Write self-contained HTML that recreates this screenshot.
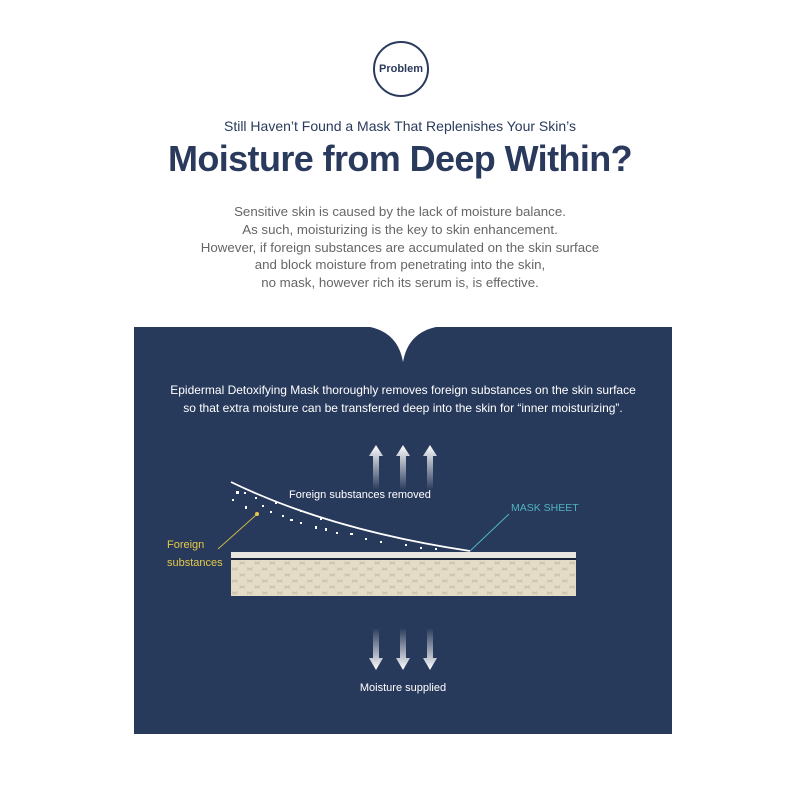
<!DOCTYPE html>
<html><head><meta charset="utf-8"><style>
body{margin:0;width:800px;height:800px;background:#fff;position:relative;overflow:hidden;font-family:"Liberation Sans",sans-serif}
.c{position:absolute;left:0;width:800px;text-align:center}
</style></head><body>
<div style="position:absolute;left:373px;top:41px;width:56px;height:56px;border:2.5px solid #2a3a5c;border-radius:50%;box-sizing:border-box;display:flex;align-items:center;justify-content:center;font-weight:bold;font-size:11px;color:#2a3a5c">Problem</div>
<div class="c" style="top:118px;font-size:14px;color:#2a3a5c">Still Haven’t Found a Mask That Replenishes Your Skin’s</div>
<div class="c" style="top:138px;font-size:36px;font-weight:bold;color:#2a3a5c;letter-spacing:-0.6px">Moisture from Deep Within?</div>
<div class="c" style="top:203px;font-size:13.3px;line-height:17.8px;color:#666">Sensitive skin is caused by the lack of moisture balance.<br>As such, moisturizing is the key to skin enhancement.<br>However, if foreign substances are accumulated on the skin surface<br>and block moisture from penetrating into the skin,<br>no mask, however rich its serum is, is effective.</div>
<svg style="position:absolute;left:0;top:0" width="800" height="800">
<defs>
<linearGradient id="up" x1="0" y1="0" x2="0" y2="1"><stop offset="0" stop-color="#fff"/><stop offset="1" stop-color="#fff" stop-opacity="0"/></linearGradient>
<linearGradient id="dn" x1="0" y1="1" x2="0" y2="0"><stop offset="0" stop-color="#fff"/><stop offset="1" stop-color="#fff" stop-opacity="0"/></linearGradient>
<pattern id="hex" x="231" y="560" width="15" height="12" patternUnits="userSpaceOnUse">
<rect width="15" height="12" fill="#cfc6ae"/>
<circle cx="3.75" cy="3" r="5" fill="#e4dcc7"/><circle cx="11.25" cy="9" r="5" fill="#e4dcc7"/><circle cx="-3.75" cy="9" r="5" fill="#e4dcc7"/><circle cx="18.75" cy="3" r="5" fill="#e4dcc7"/><circle cx="3.75" cy="15" r="5" fill="#e4dcc7"/><circle cx="11.25" cy="-3" r="5" fill="#e4dcc7"/><circle cx="18.75" cy="15" r="5" fill="#e4dcc7"/><circle cx="-3.75" cy="-3" r="5" fill="#e4dcc7"/>
</pattern>
</defs>
<path d="M134 327 H370 Q398 333 403 362 Q408 333 436 327 H672 V734 H134 Z" fill="#283a5b"/>
<text x="403" y="394" text-anchor="middle" font-size="12" fill="#fff">Epidermal Detoxifying Mask thoroughly removes foreign substances on the skin surface</text>
<text x="403" y="412" text-anchor="middle" font-size="12" fill="#fff">so that extra moisture can be transferred deep into the skin for “inner moisturizing”.</text>
<g fill="url(#up)">
<path d="M369 456 L376 445 L383 456 H379 V490 H373 V456Z"/>
<path d="M396 456 L403 445 L410 456 H406 V490 H400 V456Z"/>
<path d="M423 456 L430 445 L437 456 H433 V490 H427 V456Z"/>
</g>
<g fill="url(#dn)">
<path d="M369 658 L376 670 L383 658 H379 V628 H373 V658Z"/>
<path d="M396 658 L403 670 L410 658 H406 V628 H400 V658Z"/>
<path d="M423 658 L430 670 L437 658 H433 V628 H427 V658Z"/>
</g>
<text x="289" y="498" font-size="11" fill="#fff">Foreign substances removed</text>
<text x="511" y="511" font-size="10.5" fill="#4fb3c0">MASK SHEET</text>
<line x1="509" y1="514" x2="470" y2="551" stroke="#4fb3c0" stroke-width="1"/>
<text x="167" y="548" font-size="11" fill="#e5c94a">Foreign</text>
<text x="167" y="566" font-size="11" fill="#e5c94a">substances</text>
<line x1="218" y1="549" x2="256" y2="515" stroke="#c9b24a" stroke-width="1"/>
<circle cx="257" cy="514" r="2" fill="#e5c94a"/>
<path d="M231 482 Q330 530 470 551" stroke="#fff" stroke-width="1.8" fill="none"/>
<g fill="#fff">
<rect x="236" y="491" width="3" height="3"/><rect x="244" y="492" width="2" height="2"/><rect x="232" y="499" width="2" height="2"/><rect x="245" y="506" width="2" height="3"/><rect x="262" y="505" width="2" height="2"/><rect x="270" y="511" width="2" height="2"/><rect x="282" y="515" width="2" height="2"/><rect x="290" y="519" width="3" height="2"/><rect x="300" y="522" width="2" height="2"/><rect x="315" y="526" width="2" height="3"/><rect x="325" y="528" width="2" height="3"/><rect x="336" y="532" width="2" height="2"/><rect x="350" y="533" width="3" height="2"/><rect x="365" y="538" width="2" height="2"/><rect x="380" y="541" width="2" height="2"/><rect x="405" y="544" width="2" height="2"/><rect x="420" y="547" width="2" height="2"/><rect x="435" y="548" width="2" height="2"/><rect x="255" y="497" width="2" height="2"/><rect x="300" y="510" width="2" height="2"/><rect x="320" y="518" width="2" height="2"/><rect x="275" y="502" width="2" height="2"/></g>
<rect x="231" y="552" width="345" height="6" fill="#e8e6e0"/>
<rect x="231" y="558" width="345" height="2" fill="#1a253b"/>
<rect x="231" y="560" width="345" height="36" fill="url(#hex)"/>
<text x="403" y="691" text-anchor="middle" font-size="11" fill="#fff">Moisture supplied</text>
</svg>
</body></html>
